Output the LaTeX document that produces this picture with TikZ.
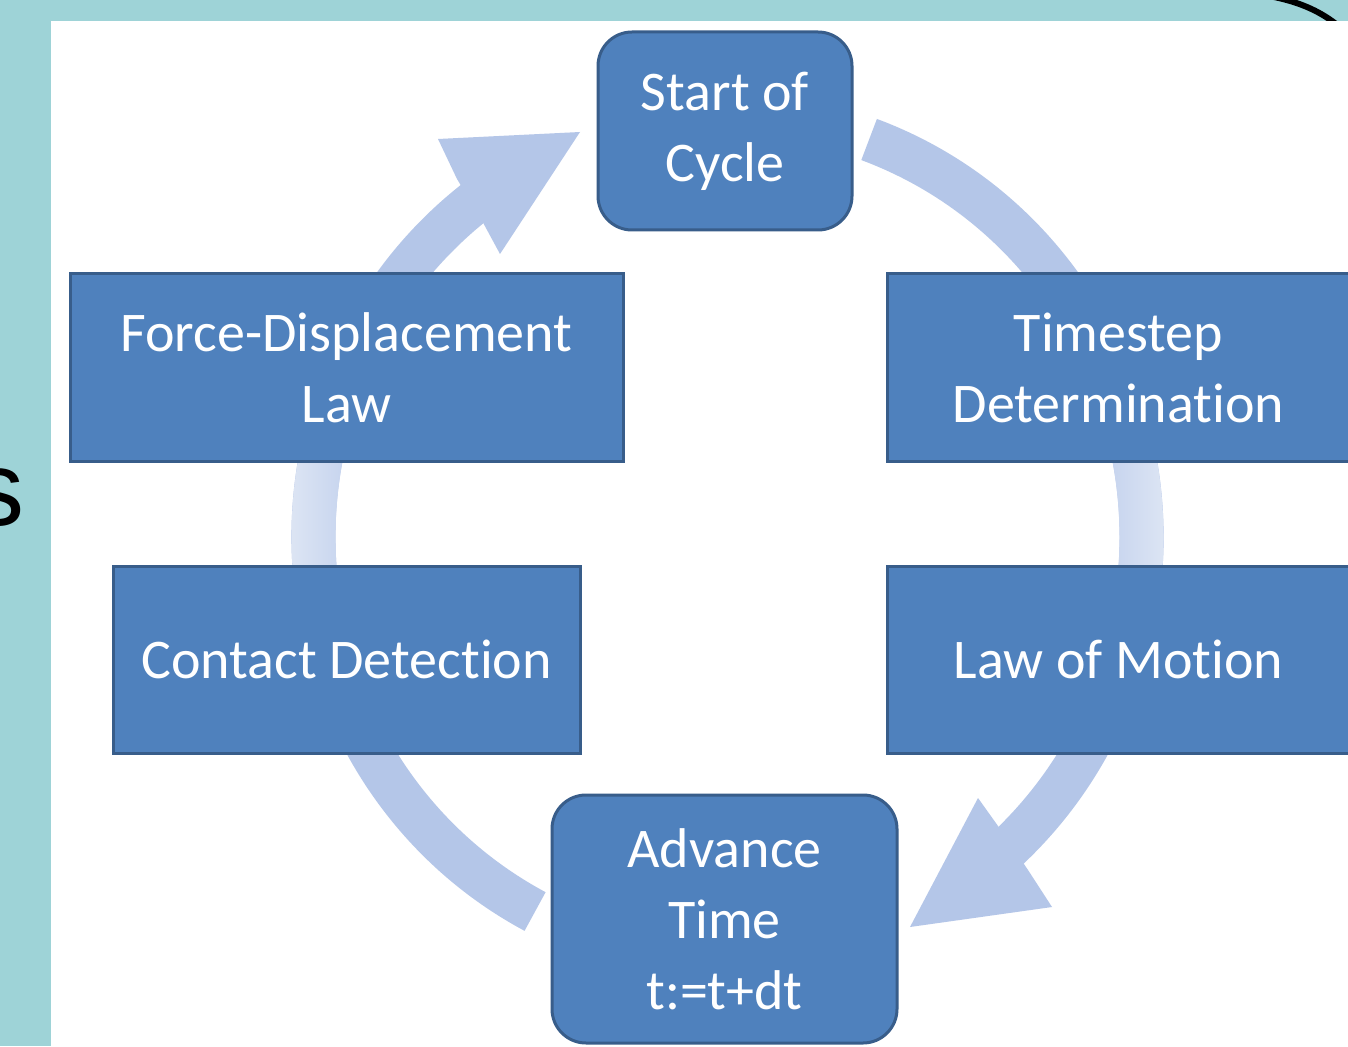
\documentclass[tikz,border=0pt]{standalone}
\usepackage{fontspec}
\setmainfont[Ligatures=CommonOff]{Carlito}
\newfontfamily\arialfont{Liberation Sans}
\usetikzlibrary{calc}
\definecolor{teal1}{RGB}{158,211,215}
\definecolor{boxfill}{RGB}{79,129,189}
\definecolor{boxline}{RGB}{56,93,138}
\definecolor{ringc}{RGB}{180,198,232}
\definecolor{ringlight}{RGB}{222,230,244}
\definecolor{ringmid}{RGB}{197,211,238}
\newcommand{\ringseg}[4]{%
  \shade[left color=#3, right color=#4]
    ($(ctr)+(#1:218pt and 222.5pt)$) arc[start angle=#1, end angle=#2, x radius=218pt, y radius=222.5pt]
    -- ($(ctr)+(#2:196pt and 200.5pt)$) arc[start angle=#2, end angle=#1, x radius=196pt, y radius=200.5pt]
    -- cycle;}
\begin{document}
\begin{tikzpicture}[x=0.5pt,y=0.5pt,
  box/.style={draw=boxline, line width=1.5pt, fill=boxfill, text=white, align=center,
    font=\fontsize{28}{35.5}\selectfont, inner sep=0pt},
  rbox/.style={box, rounded corners=17pt},
  ring/.style={draw=ringc, line width=22pt},
  arrowtip/.style={fill=ringc}]
\useasboundingbox (0,0) rectangle (1348,1046);
\clip (0,0) rectangle (1348,1046);
% background
\fill[teal1] (0,0) rectangle (1348,1046);
\draw[line width=3pt] (1274,1049) .. controls (1298,1044) and (1318,1036) .. (1336,1022);
\fill[white] (51,0) rectangle (1348,1025);
\node[anchor=base east, inner sep=0pt, font=\arialfont\fontsize{53}{60}\selectfont] (s) at (25,521) {s};
% ring
\coordinate (ctr) at (727.5,509);
\draw[ring] ($(ctr)+(70:207pt and 211.5pt)$) arc[start angle=70, end angle=-49, x radius=207pt, y radius=211.5pt];
\draw[ring] ($(ctr)+(242.3:207pt and 211.5pt)$) arc[start angle=242.3, end angle=126, x radius=207pt, y radius=211.5pt];
\ringseg{165}{192}{ringlight}{ringmid}
\ringseg{15}{-12}{ringmid}{ringlight}
% arrowheads
\fill[arrowtip] (580,914) -- (438,907) -- (457,867) -- (480,829) -- (500,792) -- cycle;
\fill[arrowtip] (910,119) -- (1052,139) -- (1028,176) -- (1003,213) -- (978,248) -- cycle;
% boxes
\node[rbox, minimum width=127pt, minimum height=99pt] (start) at (725,915) {Start of\\Cycle};
\node[box, minimum width=231.5pt, minimum height=93.5pt] (time) at (1118.5,678.5) {Timestep\\Determination};
\node[box, minimum width=231.5pt, minimum height=93.5pt] (motion) at (1118.5,386.5) {Law of Motion};
\node[rbox, minimum width=172.5pt, minimum height=124pt] (adv) at (724.5,127) {Advance\\Time\\t:=t+dt};
\node[box, minimum width=233.5pt, minimum height=93.5pt] (contact) at (346.5,386.5) {Contact Detection};
\node[box, minimum width=276.5pt, minimum height=93.5pt] (force) at (346.5,678.5) {Force-Displacement\\Law};
\end{tikzpicture}
\end{document}
